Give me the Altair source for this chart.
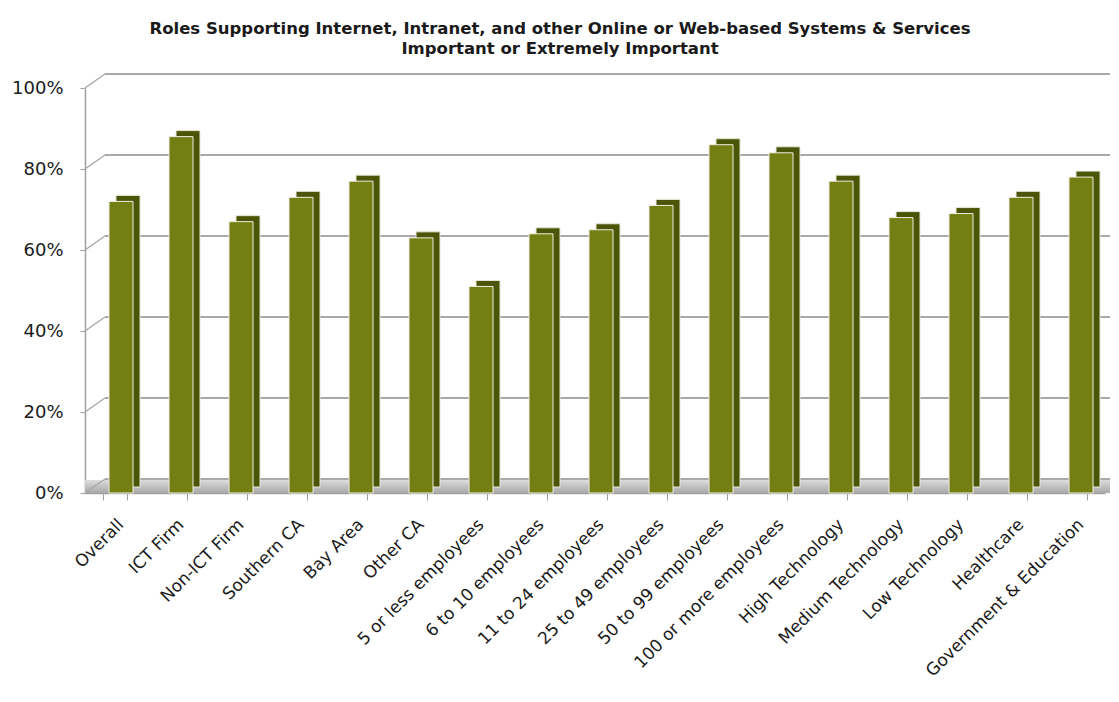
import altair as alt
import pandas as pd

categories = ["Overall", "ICT Firm", "Non-ICT Firm", "Southern CA", "Bay Area", "Other CA",
              "5 or less employees", "6 to 10 employees", "11 to 24 employees",
              "25 to 49 employees", "50 to 99 employees", "100 or more employees",
              "High Technology", "Medium Technology", "Low Technology", "Healthcare",
              "Government & Education"]
values = [0.72, 0.88, 0.67, 0.73, 0.77, 0.63, 0.51, 0.64, 0.65, 0.71, 0.86, 0.84,
          0.77, 0.68, 0.69, 0.73, 0.78]
ticks = [0.0, 0.2, 0.4, 0.6, 0.8, 1.0]

df = pd.DataFrame({"cat": categories, "v": values})
tdf = pd.DataFrame({"t": ticks})

W, H = 1020, 405
LABEL_FONT = "DejaVu Sans"
TITLE_FONT = "DejaVu Sans"

yscale = alt.Scale(domain=[0, 1], nice=False)
xscale = alt.Scale(domain=categories, paddingInner=0.6, paddingOuter=0.3)

xaxis = alt.Axis(labelAngle=-45, tickBand="extent", labelFontSize=17,
                 labelFont=LABEL_FONT, labelColor="#1a1a1a", labelPadding=16,
                 domainColor="#a0a0a0", tickColor="#a0a0a0", tickSize=7,
                 domainWidth=1.5, labelLimit=300, title=None)
yaxis = alt.Axis(values=ticks, format=".0%", grid=False, labelFontSize=18,
                 labelFont=LABEL_FONT, labelColor="#1a1a1a", labelPadding=17,
                 domainColor="#a0a0a0", tickColor="#a0a0a0", tickSize=5,
                 domainWidth=1.5, title=None)

floor = alt.Chart(tdf).mark_rect(
    color=alt.Gradient(gradient="linear",
                       stops=[alt.GradientStop(color="#dcdcdc", offset=0),
                              alt.GradientStop(color="#a8a8a8", offset=1)],
                       x1=0, x2=0, y1=0, y2=1)
).encode(x=alt.value(0), x2=alt.value(W + 5), y=alt.value(H - 13), y2=alt.value(H))

grid = alt.Chart(tdf).mark_rule(color="#a9a9a9", strokeWidth=2, yOffset=-14).encode(
    y=alt.Y("t:Q", scale=yscale, axis=yaxis),
    x=alt.value(20), x2=alt.value(W + 5))

diag = alt.Chart(tdf).mark_rule(color="#a9a9a9", strokeWidth=1.5, y2Offset=-14).encode(
    y=alt.Y("t:Q", scale=yscale, axis=yaxis), y2="t:Q",
    x=alt.value(0), x2=alt.value(20))

side = alt.Chart(df).mark_bar(color="#4b5508", stroke="#e6e6d6", strokeWidth=1,
                              xOffset=13, yOffset=-6, y2Offset=-6).encode(
    x=alt.X("cat:N", scale=xscale, sort=categories, axis=xaxis),
    y=alt.Y("v:Q", scale=yscale, axis=yaxis))

front = alt.Chart(df).mark_bar(color="#737e13", stroke="#efefe2", strokeWidth=1,
                               xOffset=6).encode(
    x=alt.X("cat:N", scale=xscale, sort=categories, axis=xaxis),
    y=alt.Y("v:Q", scale=yscale, axis=yaxis))

chart = alt.layer(floor, grid, diag, side, front).properties(
    width=W, height=H,
    title=alt.TitleParams(
        text=["Roles Supporting Internet, Intranet, and other Online or Web-based Systems & Services",
              "Important or Extremely Important"],
        font=TITLE_FONT, fontSize=16.5, fontWeight="bold", color="#1a1a1a",
        anchor="middle", dx=-35, offset=16, lineHeight=20),
    autosize=alt.AutoSizeParams(type="none"),
    padding={"left": 85, "top": 88, "right": 14, "bottom": 209},
).configure_view(stroke=None)

chart.save("out.html", embed_options={"renderer": "svg", "actions": False})
